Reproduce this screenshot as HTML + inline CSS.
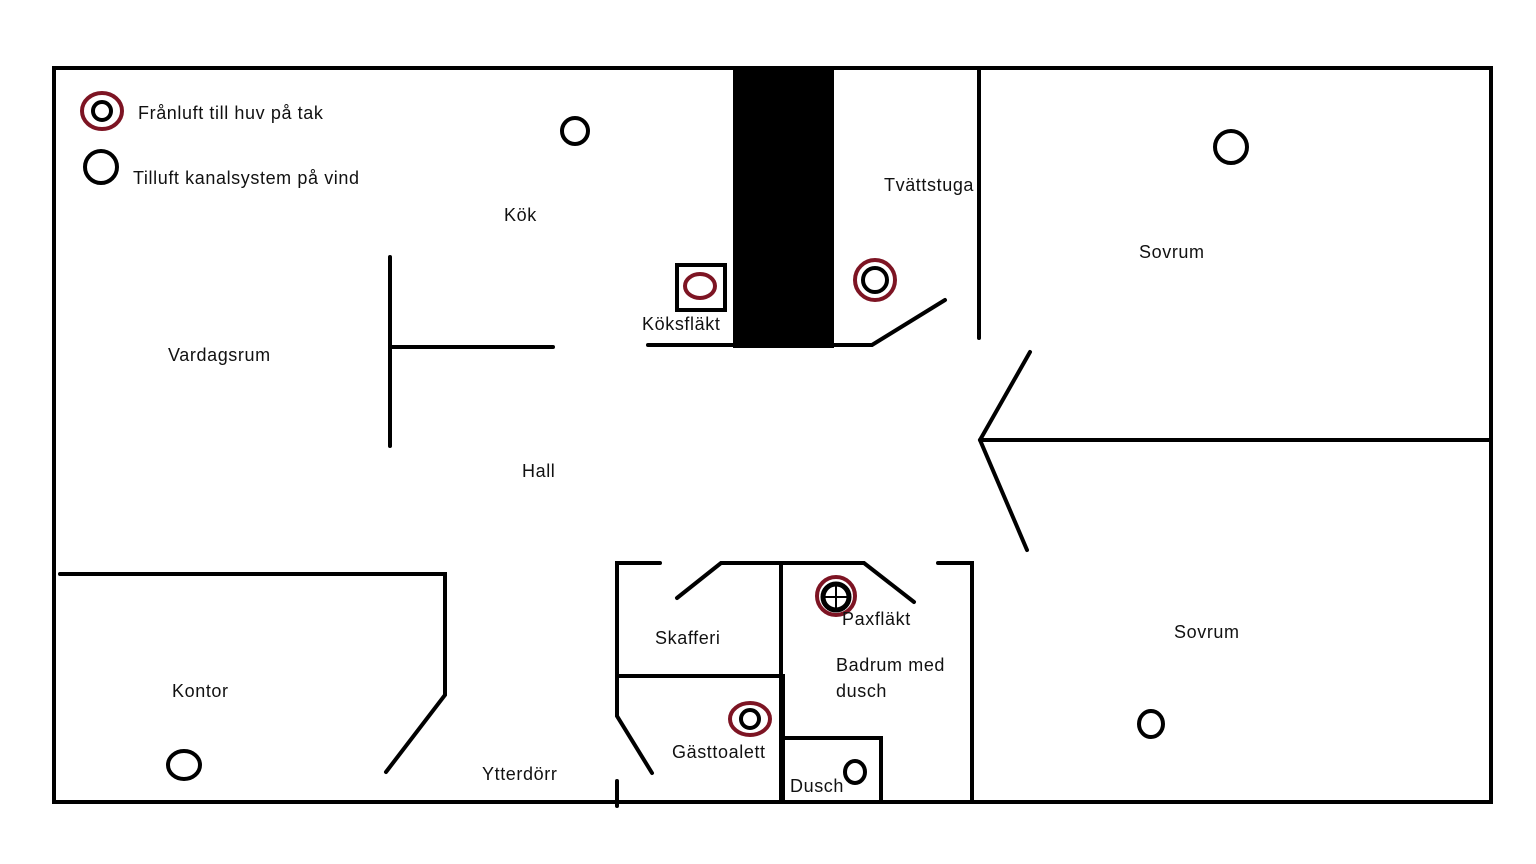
<!DOCTYPE html>
<html><head><meta charset="utf-8"><style>
html,body{margin:0;padding:0;background:#fff;}
svg{display:block}
text{font-family:"Liberation Sans",sans-serif;font-size:18px;letter-spacing:0.6px;fill:#111}
</style></head><body>
<svg width="1536" height="864" viewBox="0 0 1536 864" xmlns="http://www.w3.org/2000/svg">
<rect width="1536" height="864" fill="#fff"/>
<g stroke="#000" stroke-width="4" fill="none" stroke-linecap="round">
<rect x="54" y="68" width="1437" height="734"/>
<line x1="390" y1="257" x2="390" y2="446"/>
<line x1="392" y1="347" x2="553" y2="347"/>
<line x1="648" y1="345" x2="735" y2="345"/>
<polyline points="834,345 872,345 945,300"/>
<line x1="979" y1="70" x2="979" y2="338"/>
<polyline points="1030,352 980,440 1027,550"/>
<line x1="980" y1="440" x2="1489" y2="440"/>
<polyline points="60,574 445,574 445,695 386,772"/>
<polyline points="660,563 617,563 617,716 652,773"/>
<line x1="617" y1="781" x2="617" y2="806"/>
<polyline points="677,598 721,563 864,563 914,602"/>
<polyline points="938,563 972,563 972,802"/>
<line x1="781" y1="565" x2="781" y2="802"/>
<polyline points="619,676 783,676 783,802"/>
<polyline points="785,738 881,738 881,802"/>
<rect x="677" y="265" width="48" height="45"/>
<circle cx="575" cy="131" r="13"/>
<circle cx="1231" cy="147" r="16"/>
<ellipse cx="184" cy="765" rx="16" ry="14"/>
<ellipse cx="1151" cy="724" rx="12" ry="13"/>
<ellipse cx="855" cy="772" rx="10" ry="11"/>
<circle cx="101" cy="167" r="16"/>
<circle cx="102" cy="111" r="9"/>
<circle cx="875" cy="280" r="12"/>
<circle cx="836" cy="597" r="13" stroke-width="5"/>
<line x1="836" y1="585" x2="836" y2="609" stroke-width="2"/>
<line x1="824" y1="597" x2="848" y2="597" stroke-width="2"/>
<circle cx="750" cy="719" r="9"/>
</g>
<rect x="733" y="70" width="101" height="278" fill="#000"/>
<g stroke="#7d1423" stroke-width="4" fill="none">
<ellipse cx="102" cy="111" rx="20" ry="18"/>
<ellipse cx="700" cy="286" rx="15" ry="12"/>
<circle cx="875" cy="280" r="20"/>
<circle cx="836" cy="596" r="19"/>
<ellipse cx="750" cy="719" rx="20" ry="16"/>
</g>
<text x="138" y="119">Frånluft till huv på tak</text>
<text x="133" y="184">Tilluft kanalsystem på vind</text>
<text x="504" y="221">Kök</text>
<text x="884" y="191">Tvättstuga</text>
<text x="1139" y="258">Sovrum</text>
<text x="642" y="330">Köksfläkt</text>
<text x="168" y="361">Vardagsrum</text>
<text x="522" y="477">Hall</text>
<text x="842" y="625">Paxfläkt</text>
<text x="655" y="644">Skafferi</text>
<text x="1174" y="638">Sovrum</text>
<text x="836" y="671">Badrum med</text>
<text x="836" y="697">dusch</text>
<text x="172" y="697">Kontor</text>
<text x="672" y="758">Gästtoalett</text>
<text x="482" y="780">Ytterdörr</text>
<text x="790" y="792">Dusch</text>
</svg>
</body></html>
